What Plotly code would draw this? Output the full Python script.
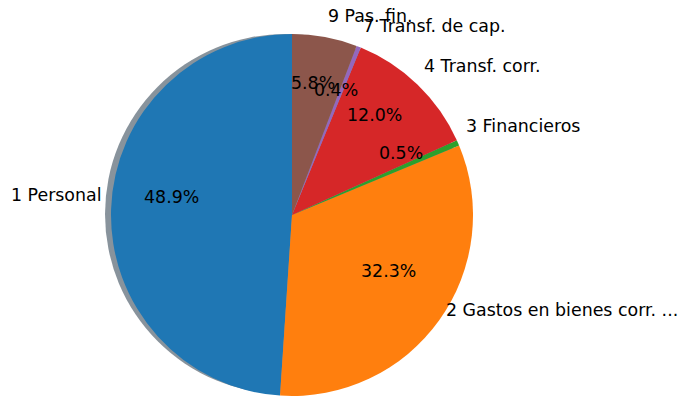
import math
import plotly.graph_objects as go

# ---- data ----
labels = ["1 Personal", "2 Gastos en bienes corr. ...", "3 Financieros",
          "4 Transf. corr.", "7 Transf. de cap.", "9 Pas. fin."]
values = [48.9, 32.3, 0.5, 12.0, 0.4, 5.8]
colors = ["#1f77b4", "#ff7f0e", "#2ca02c", "#d62728", "#9467bd", "#8c564b"]

W, H = 681, 408

# pie geometry (pixels)
PCX, PCY, PR = 292, 215, 181
# text geometry (pixels)
TCX, TCY, TR = 291.5, 201, 171
LABEL_DIST, PCT_DIST = 1.1, 0.7
FONT = dict(family="DejaVu Sans", size=17.4, color="#000000")


def dom(cx, cy, r):
    return dict(x=[(cx - r) / W, (cx + r) / W], y=[1 - (cy + r) / H, 1 - (cy - r) / H])


total = sum(values)

fig = go.Figure()

# shadow
fig.add_trace(go.Pie(
    values=[1], labels=["shadow"], sort=False, textinfo="none", hoverinfo="skip",
    marker=dict(colors=["#88939c"], line=dict(width=0)),
    domain=dom(PCX - 7, PCY - 1, PR - 1), showlegend=False,
))

# plotly's counterclockwise mode puts the first slice clockwise of the start
# angle; rotate back by the first slice so it starts at 12 o'clock going CCW
fig.add_trace(go.Pie(
    values=values, labels=labels, sort=False, direction="counterclockwise",
    rotation=-360 * values[0] / total, textinfo="none",
    marker=dict(colors=colors, line=dict(width=0)),
    domain=dom(PCX, PCY, PR), showlegend=False,
))

cum = 0.0
annotations = []
for lab, v in zip(labels, values):
    theta = math.radians(90 + 360 * (cum + v / 2) / total)
    cum += v
    c, s = math.cos(theta), math.sin(theta)
    lx = TCX + LABEL_DIST * TR * c
    ly = TCY - LABEL_DIST * TR * s
    annotations.append(dict(
        x=lx / W, y=1 - ly / H, xref="paper", yref="paper", text=lab,
        showarrow=False, xanchor="left" if c > 0 else "right", yanchor="middle",
        font=FONT,
    ))
    px = TCX + PCT_DIST * TR * c
    py = TCY - PCT_DIST * TR * s
    annotations.append(dict(
        x=px / W, y=1 - py / H, xref="paper", yref="paper",
        text=f"{v / total * 100:.1f}%", showarrow=False,
        xanchor="center", yanchor="middle", font=FONT,
    ))

fig.update_layout(
    width=W, height=H, margin=dict(l=0, r=0, t=0, b=0),
    paper_bgcolor="white", plot_bgcolor="white",
    annotations=annotations,
)

fig.write_html(
    "out.html",
    config={"displayModeBar": False},
    post_script="document.body.style.margin='0px';document.body.style.overflow='hidden';",
)
